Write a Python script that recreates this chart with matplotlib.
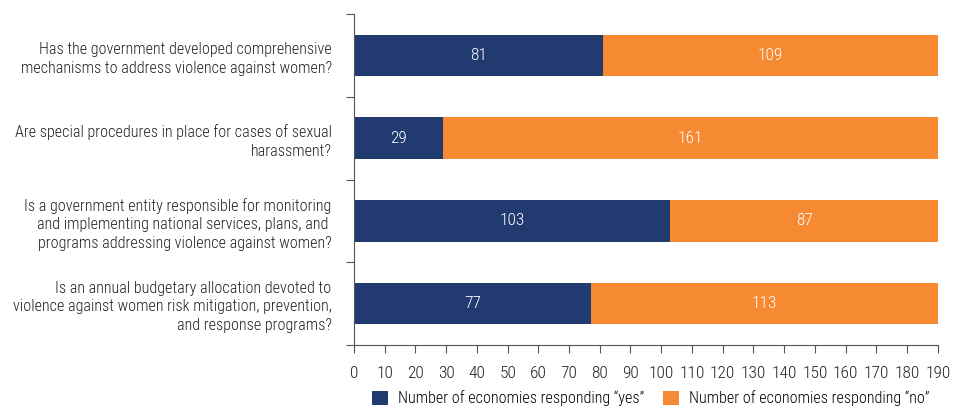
import numpy as np
import matplotlib.pyplot as plt

questions = [
    "Has the government developed comprehensive\nmechanisms to address violence against women?",
    "Are special procedures in place for cases of sexual\nharassment?",
    "Is a government entity responsible for monitoring\nand implementing national services, plans, and \nprograms addressing violence against women?",
    "Is an annual budgetary allocation devoted to\nviolence against women risk mitigation, prevention,\nand response programs?",
]
yes_counts = [81, 29, 103, 77]
no_counts = [109, 161, 87, 113]

navy = "#213a70"
orange = "#f58a33"

plt.rcParams["font.family"] = ["Roboto Condensed", "Asap Condensed", "Archivo Narrow", "DejaVu Sans"]
plt.rcParams["font.weight"] = "light"

fig = plt.figure(figsize=(9.54, 4.16), dpi=100)
ax = fig.add_axes([0.371, 0.171, 0.612, 0.795])

y = np.arange(len(questions))
ax.barh(y, yes_counts, height=0.5, color=navy, label="Number of economies responding \u201cyes\u201d")
ax.barh(y, no_counts, left=yes_counts, height=0.5, color=orange, label="Number of economies responding \u201cno\u201d")

# value labels inside each segment
for i in range(len(questions)):
    ax.text(yes_counts[i] / 2, y[i], str(yes_counts[i]), color="white", ha="center", va="center", fontsize=12.5)
    ax.text(yes_counts[i] + no_counts[i] / 2, y[i], str(no_counts[i]), color="white", ha="center", va="center", fontsize=12.5)

ax.set_xlim(0, 190)
ax.set_ylim(len(questions) - 0.5, -0.5)
ax.set_xticks(np.arange(0, 191, 10))
ax.set_yticks(np.arange(-0.5, len(questions), 1))
ax.set_yticklabels([])
ax.set_yticks(y, minor=True)
ax.set_yticklabels(questions, minor=True, fontsize=11.6, color="#222222")
ax.tick_params(axis="y", which="minor", length=0, pad=16)
ax.tick_params(axis="y", which="major", length=6, color="#555555")
ax.tick_params(axis="x", length=6, color="#555555", labelsize=12.5, pad=9, labelcolor="#222222")
for lab in ax.get_yticklabels(minor=True):
    lab.set_multialignment("right")
    lab.set_linespacing(1.3)

for s in ["top", "right"]:
    ax.spines[s].set_visible(False)
for s in ["left", "bottom"]:
    ax.spines[s].set_color("#555555")

fig.legend(loc="lower center", bbox_to_anchor=(0.682, -0.012), ncol=2, frameon=False,
           fontsize=11.6, handlelength=1.0, handleheight=1.0, columnspacing=1.2, handletextpad=0.6)

fig.savefig("out.png", dpi=100)
